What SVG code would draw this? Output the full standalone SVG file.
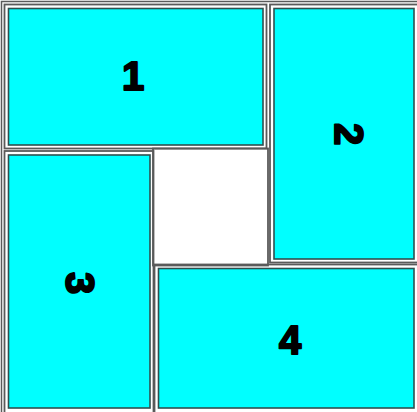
<svg xmlns="http://www.w3.org/2000/svg" width="417" height="412" viewBox="0 0 417 412">
<style>
.frame{fill:none;stroke:#5a5a5a;stroke-width:1.5}
.cell{fill:none;stroke:#5a5a5a;stroke-width:1.8}
.box{fill:#00ffff;stroke:#2f4f4f;stroke-width:1.6}
.lbl{font-family:"Liberation Sans",Arial,sans-serif;font-weight:bold;font-size:40px;fill:#000;stroke:#000;stroke-width:2;stroke-linejoin:round;text-anchor:middle;dominant-baseline:central}
</style>
<rect width="417" height="412" fill="#fff"/>
<rect class="frame" x="1.5" y="1.5" width="420" height="420"/>
<g id="center">
<rect class="cell" x="153" y="148.5" width="115" height="117"/>
</g>
<g id="n1">
<rect class="cell" x="4.5" y="4.5" width="262" height="144"/>
<rect class="box" x="8.5" y="8.5" width="254.5" height="136.5"/>
<text class="lbl" x="133" y="76">1</text>
</g>
<g id="n2">
<rect class="cell" x="270" y="4.5" width="150" height="258"/>
<rect class="box" x="274" y="8.5" width="140" height="250.5"/>
<text class="lbl" x="349" y="134" transform="rotate(90 349 134)">2</text>
</g>
<g id="n3">
<rect class="cell" x="4.5" y="151" width="149" height="264"/>
<rect class="box" x="8.5" y="155" width="141.5" height="253"/>
<text class="lbl" x="80" y="283" transform="rotate(90 80 283)">3</text>
</g>
<g id="n4">
<rect class="cell" x="154.5" y="264.5" width="265" height="150"/>
<rect class="box" x="158.5" y="268.5" width="255.5" height="139.5"/>
<text class="lbl" x="290" y="340">4</text>
</g>
<g id="connectors"></g>
</svg>
